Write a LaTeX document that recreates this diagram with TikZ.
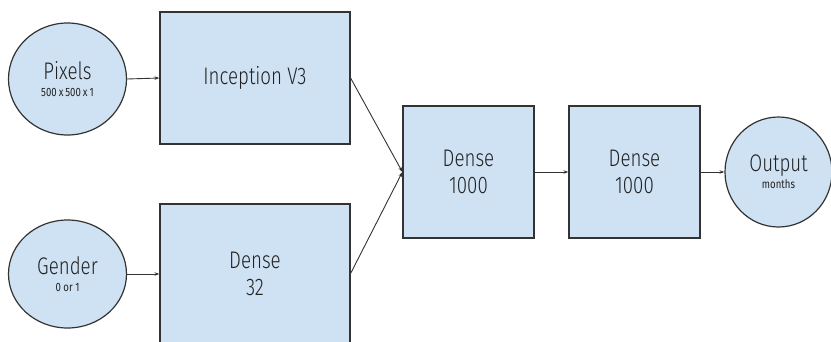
\documentclass[tikz,border=0pt]{standalone}
\usepackage{fontspec}
\setmainfont{Fira Sans Light}[FakeStretch=0.78]
\newfontfamily\subfont{Fira Sans}[FakeStretch=0.8]
\usetikzlibrary{arrows.meta,shapes.geometric}
\definecolor{boxfill}{HTML}{CFE2F3}
\definecolor{boxline}{HTML}{333333}
\definecolor{txt}{HTML}{222222}
\tikzset{
  layerbox/.style={draw=boxline,fill=boxfill,line width=1.2pt,rectangle,inner sep=0pt,align=center,text=txt,font=\fontsize{24}{27}\selectfont},
  inputnode/.style={draw=boxline,fill=boxfill,line width=1.2pt,ellipse,inner sep=0pt,align=center,text=txt,font=\fontsize{24}{17}\selectfont},
  conn/.style={draw=boxline,line width=0.9pt,-{Stealth[length=5pt,width=3.5pt]}}
}
\newcommand{\subtxt}[1]{{\subfont\fontsize{12}{12}\selectfont #1}}
\newcommand{\tsp}{\hspace{2pt}}
\begin{document}
\begin{tikzpicture}[x=1pt,y=-1pt]
\useasboundingbox (0,0) rectangle (831,341);
\node[inputnode,minimum width=118pt,minimum height=112pt] (pix) at (67.5,79) {Pixels\\[0pt]\subtxt{500\tsp x\tsp 500\tsp x\tsp 1}};
\node[inputnode,minimum width=118pt,minimum height=108pt] (gen) at (67.5,274) {Gender\\[0pt]\subtxt{0 or 1}};
\node[layerbox,minimum width=190pt,minimum height=132pt] (inc) at (255,78) {Inception V3};
\node[layerbox,minimum width=190pt,minimum height=139pt] (d32) at (255,273.5) {Dense\\32};
\node[layerbox,minimum width=131pt,minimum height=132pt] (d1) at (468.5,172) {Dense\\1000};
\node[layerbox,minimum width=131pt,minimum height=132pt] (d2) at (634.5,172) {Dense\\1000};
\node[inputnode,minimum width=107pt,minimum height=110pt] (out) at (778.5,172) {Output\\[0pt]\subtxt{months}};
\draw[conn] (pix.east) -- (inc.west);
\draw[conn] (gen.east) -- (gen.east -| d32.west);
\draw[conn] (inc.east) -- (d1.west);
\draw[conn] (d32.east) -- (d1.west);
\draw[conn] (d1.east) -- (d2.west);
\draw[conn] (d2.east) -- (out.west);
\end{tikzpicture}
\end{document}
